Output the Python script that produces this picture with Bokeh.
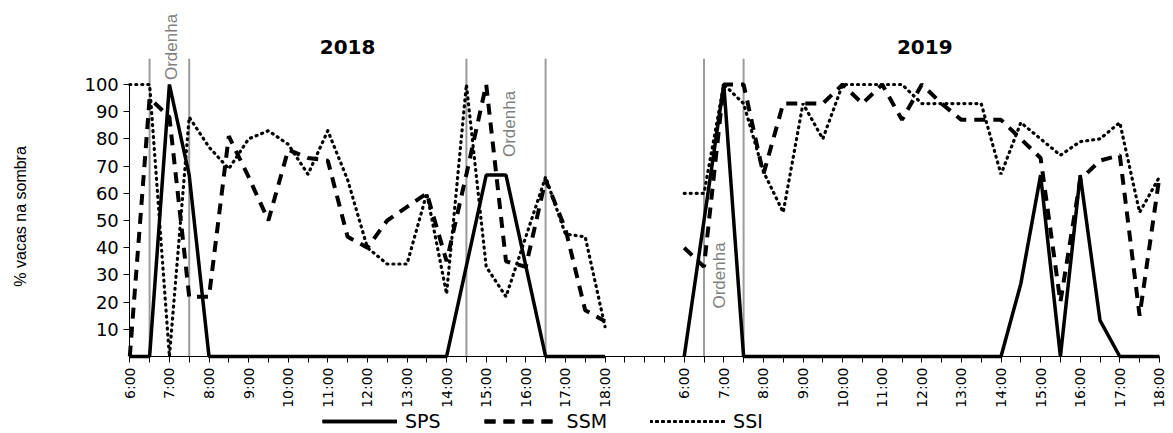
import math
from bokeh.plotting import figure
from bokeh.models import Range1d, FixedTicker, Label, Legend, LegendItem
from bokeh.embed import file_html
from bokeh.resources import INLINE

# ---------------- data ----------------
times = ["6:00", "6:30", "7:00", "7:30", "8:00", "8:30", "9:00", "9:30", "10:00",
         "10:30", "11:00", "11:30", "12:00", "12:30", "13:00", "13:30", "14:00",
         "14:30", "15:00", "15:30", "16:00", "16:30", "17:00", "17:30", "18:00"]
years = ["2018", "2019"]
gap = 3  # empty categories between the two years

sps_2018 = [0, 0, 100, 66.7, 0, 0, 0, 0, 0, 0, 0, 0, 0, 0, 0, 0, 0,
            33.3, 66.7, 66.7, 33.3, 0, 0, 0, 0]
ssm_2018 = [0, 95, 88, 22, 22, 81, 66, 50, 76, 73, 72, 44, 40, 50, 55, 60, 35,
            67, 100, 35, 33, 65, 47, 17, 13]
ssi_2018 = [100, 100, 0, 88, 77, 69, 80, 83, 78, 67, 83, 65, 40, 34, 34, 60, 23,
            100, 33, 22, 44, 66, 45, 44, 11]

sps_2019 = [0, 50, 100, 0, 0, 0, 0, 0, 0, 0, 0, 0, 0, 0, 0, 0, 0,
            26.7, 66.7, 0, 66.7, 13.3, 0, 0, 0]
ssm_2019 = [40, 33, 100, 100, 67, 93, 93, 93, 100, 93, 100, 87, 100, 93, 87, 87, 87,
            80, 73, 20, 65, 72, 74, 15, 66]
ssi_2019 = [60, 60, 100, 93, 68, 53, 93, 80, 100, 100, 100, 100, 93, 93, 93, 93, 67,
            86, 80, 74, 79, 80, 86, 53, 66]

ordenha_2018 = ["6:30", "7:30", "14:30", "16:30"]
ordenha_2019 = ["6:30", "7:30"]

series_names = ["SPS", "SSM", "SSI"]
y_ticks = [10, 20, 30, 40, 50, 60, 70, 80, 90, 100]
y_title = "% vacas na sombra"
ordenha_text = "Ordenha"

# ---------------- positions on categorical axis ----------------
n = len(times)
off = {"2018": 0, "2019": n + gap}
x18 = [off["2018"] + i for i in range(n)]
x19 = [off["2019"] + i for i in range(n)]
total = 2 * n + gap

W, H = 1173, 433
PX_X = 19.8       # px per half-hour slot
PX_Y = 2.72       # px per percent
X0_PX = 129.3     # canvas x of first slot
Y0_PX = 356.0     # canvas y of 0 %

p = figure(width=W, height=H, output_backend="svg", toolbar_location=None,
           x_range=Range1d(-X0_PX / PX_X, (W - X0_PX) / PX_X),
           y_range=Range1d(-(H - Y0_PX) / PX_Y, Y0_PX / PX_Y),
           min_border_left=0, min_border_right=0, min_border_top=0,
           min_border_bottom=0)
p.outline_line_color = None
p.xgrid.visible = False
p.ygrid.visible = False

# ordenha lines
oxs = [off["2018"] + times.index(t) for t in ordenha_2018] + \
      [off["2019"] + times.index(t) for t in ordenha_2019]
p.segment(x0=oxs, y0=[0] * len(oxs), x1=oxs, y1=[109.5] * len(oxs),
          line_color="#9c9c9c", line_width=2)

styles = {
    "SSI": dict(line_dash="1 5", line_width=3.2, line_cap="round"),
    "SSM": dict(line_dash="11 8", line_width=4),
    "SPS": dict(line_width=3.5),
}
data = {
    "SPS": (sps_2018, sps_2019),
    "SSM": (ssm_2018, ssm_2019),
    "SSI": (ssi_2018, ssi_2019),
}
rends = {}
for name in ["SSI", "SSM", "SPS"]:
    a, b = data[name]
    r1 = p.line(x18, a, line_color="black", **styles[name])
    r2 = p.line(x19, b, line_color="black", **styles[name])
    rends[name] = [r1, r2]

# axes (drawn inside the frame at fixed positions)
overrides = {}
for i in range(total):
    overrides[i] = ""
for y in years:
    for i, t in enumerate(times):
        if t.endswith(":00"):
            overrides[off[y] + i] = t
xa = p.xaxis[0]
xa.fixed_location = 0
xa.bounds = (0, total - 1)
xa.ticker = FixedTicker(ticks=list(range(total)))
xa.major_label_overrides = overrides
xa.major_label_orientation = math.pi / 2
xa.major_label_text_font = "DejaVu Sans"
xa.major_label_text_font_size = "14px"
xa.major_label_text_color = "black"
xa.major_tick_out = 6
xa.major_tick_in = 0
xa.minor_tick_line_color = None
xa.axis_line_color = "black"
xa.major_tick_line_color = "black"
xa.major_label_standoff = 5

ya = p.yaxis[0]
ya.fixed_location = 0
ya.bounds = (0, 100)
ya.ticker = FixedTicker(ticks=y_ticks)
ya.major_label_text_font = "DejaVu Sans"
ya.major_label_text_font_size = "18px"
ya.major_label_text_color = "black"
ya.major_tick_out = 6
ya.major_tick_in = 0
ya.minor_tick_line_color = None
ya.axis_line_color = "black"
ya.major_tick_line_color = "black"
ya.major_label_standoff = 5

# y title
p.add_layout(Label(x=-5.52, y=51.5, text=y_title, angle=math.pi / 2,
                   text_align="center", text_baseline="middle",
                   text_font="Liberation Sans", text_font_size="16px",
                   text_color="black"))

# year titles
for y, cx in zip(years, [11.0, 40.15]):
    p.add_layout(Label(x=cx, y=113.8, text=y, text_align="center",
                       text_baseline="middle", text_font="DejaVu Sans",
                       text_font_style="bold", text_font_size="20px",
                       text_color="black"))

# ordenha labels
for cx, cy in [(2.1, 113.8), (19.2, 85.5), (29.8, 29.8)]:
    p.add_layout(Label(x=cx, y=cy, text=ordenha_text, angle=math.pi / 2,
                       text_align="center", text_baseline="middle",
                       text_font="Liberation Sans", text_font_size="17px",
                       text_color="#7f7f7f"))

legend = Legend(items=[LegendItem(label=nm, renderers=rends[nm]) for nm in series_names],
                orientation="horizontal", location=(322, 1),
                glyph_width=75, glyph_height=16, label_height=16, label_standoff=8,
                spacing=43, padding=0, margin=0, border_line_color=None,
                background_fill_alpha=0, label_text_font="DejaVu Sans",
                label_text_font_size="19px", label_text_color="black")
p.add_layout(legend, "center")

open("out.html", "w").write(file_html(p, INLINE))
